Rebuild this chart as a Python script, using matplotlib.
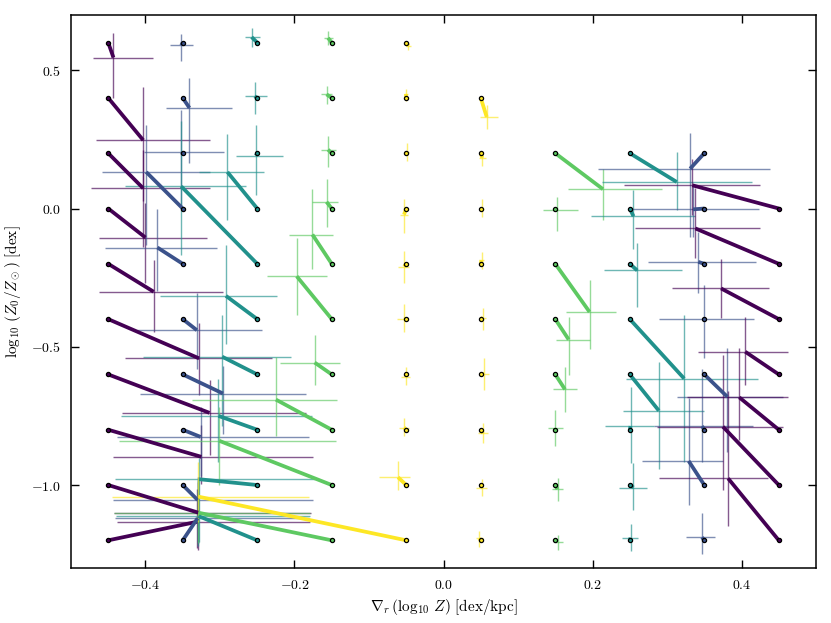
import numpy as np
import matplotlib
matplotlib.use('Agg')
import matplotlib.pyplot as plt
from matplotlib.ticker import FuncFormatter, FixedLocator

# ---- input grid (true values) ----
input_grad = ([-0.45] * 10 + [-0.35] * 10 + [-0.25] * 10 + [-0.15] * 10 + [-0.05] * 10
              + [0.05] * 9 + [0.15] * 8 + [0.25] * 8 + [0.35] * 8 + [0.45] * 7)
input_z0 = ([0.6, 0.4, 0.2, 0.0, -0.2, -0.4, -0.6, -0.8, -1.0, -1.2] * 5
            + [0.4, 0.2, 0.0, -0.2, -0.4, -0.6, -0.8, -1.0, -1.2]
            + [0.2, 0.0, -0.2, -0.4, -0.6, -0.8, -1.0, -1.2] * 3
            + [0.0, -0.2, -0.4, -0.6, -0.8, -1.0, -1.2])

# ---- recovered values ----
rec_grad = [
    -0.443, -0.403, -0.403, -0.400, -0.389, -0.328, -0.314, -0.325, -0.329, -0.331,
    -0.352, -0.341, -0.352, -0.399, -0.384, -0.331, -0.296, -0.326, -0.330, -0.330,
    -0.2575, -0.2535, -0.252, -0.290, -0.352, -0.292, -0.297, -0.302, -0.328, -0.329,
    -0.155, -0.157, -0.155, -0.157, -0.176, -0.197, -0.173, -0.225, -0.301, -0.329,
    -0.047, -0.050, -0.049, -0.053, -0.053, -0.053, -0.051, -0.053, -0.061, -0.329,
    0.058, 0.052, 0.051, 0.051, 0.053, 0.054, 0.053, 0.051, 0.048,
    0.214, 0.152, 0.196, 0.168, 0.163, 0.150, 0.153, 0.153,
    0.313, 0.255, 0.260, 0.323, 0.289, 0.251, 0.255, 0.251,
    0.331, 0.335, 0.342, 0.350, 0.381, 0.347, 0.329, 0.347,
    0.334, 0.338, 0.3725, 0.405, 0.397, 0.375, 0.382,
]
rec_z0 = [
    0.546, 0.247, 0.073, -0.105, -0.301, -0.542, -0.739, -0.898, -1.100, -1.133,
    0.590, 0.364, 0.203, 0.132, -0.141, -0.440, -0.669, -0.826, -1.054, -1.120,
    0.620, 0.406, 0.191, 0.132, 0.080, -0.316, -0.536, -0.750, -0.979, -1.112,
    0.617, 0.413, 0.213, 0.024, -0.094, -0.245, -0.557, -0.691, -0.840, -1.100,
    0.588, 0.413, 0.2045, -0.022, -0.210, -0.401, -0.609, -0.792, -0.972, -1.042,
    0.331, 0.183, 0.000, -0.187, -0.395, -0.600, -0.813, -1.009, -1.193,
    0.070, -0.006, -0.374, -0.474, -0.654, -0.795, -1.015, -1.205,
    0.096, -0.028, -0.224, -0.615, -0.731, -0.787, -1.009, -1.1905,
    0.144, -0.003, -0.193, -0.400, -0.681, -0.787, -0.913, -1.189,
    0.084, -0.072, -0.289, -0.518, -0.683, -0.789, -0.976,
]

# ---- asymmetric uncertainties ----
grad_err_lo = [
    0.028, 0.063, 0.070, 0.063, 0.073, 0.100, 0.117, 0.118, 0.113, 0.107,
    0.015, 0.031, 0.050, 0.059, 0.070, 0.081, 0.112, 0.112, 0.114, 0.111,
    0.009, 0.013, 0.027, 0.038, 0.076, 0.089, 0.106, 0.131, 0.113, 0.110,
    0.006, 0.007, 0.010, 0.020, 0.031, 0.040, 0.046, 0.112, 0.134, 0.113,
    0.004, 0.003, 0.004, 0.006, 0.008, 0.009, 0.006, 0.007, 0.025, 0.116,
    0.009, 0.004, 0.003, 0.003, 0.004, 0.005, 0.007, 0.007, 0.005,
    0.0475, 0.018, 0.031, 0.017, 0.016, 0.010, 0.007, 0.005,
    0.100, 0.057, 0.045, 0.078, 0.048, 0.034, 0.019, 0.011,
    0.123, 0.084, 0.068, 0.061, 0.067, 0.064, 0.063, 0.022,
    0.092, 0.081, 0.066, 0.064, 0.070, 0.089, 0.093,
]
grad_err_hi = [
    0.053, 0.089, 0.089, 0.082, 0.093, 0.098, 0.130, 0.150, 0.151, 0.152,
    0.016, 0.057, 0.058, 0.086, 0.080, 0.088, 0.111, 0.146, 0.155, 0.150,
    0.011, 0.016, 0.036, 0.049, 0.087, 0.069, 0.092, 0.125, 0.155, 0.150,
    0.007, 0.008, 0.011, 0.016, 0.028, 0.040, 0.034, 0.082, 0.157, 0.150,
    0.003, 0.003, 0.003, 0.005, 0.007, 0.003, 0.006, 0.007, 0.016, 0.149,
    0.015, 0.0045, 0.003, 0.003, 0.004, 0.007, 0.007, 0.007, 0.005,
    0.079, 0.028, 0.036, 0.028, 0.016, 0.011, 0.008, 0.007,
    0.101, 0.083, 0.0605, 0.099, 0.060, 0.031, 0.018, 0.010,
    0.107, 0.088, 0.077, 0.067, 0.075, 0.0685, 0.046, 0.017,
    0.091, 0.0865, 0.065, 0.058, 0.065, 0.081, 0.053,
]
z0_err_lo = [
    0.148, 0.219, 0.212, 0.163, 0.145, 0.133, 0.153, 0.100, 0.136, 0.094,
    0.057, 0.201, 0.200, 0.265, 0.156, 0.139, 0.145, 0.140, 0.157, 0.090,
    0.036, 0.065, 0.143, 0.175, 0.249, 0.175, 0.250, 0.166, 0.226, 0.110,
    0.024, 0.034, 0.063, 0.090, 0.123, 0.141, 0.082, 0.133, 0.160, 0.110,
    0.013, 0.025, 0.034, 0.065, 0.059, 0.045, 0.030, 0.031, 0.046, 0.090,
    0.042, 0.029, 0.030, 0.033, 0.045, 0.057, 0.036, 0.030, 0.030,
    0.112, 0.076, 0.135, 0.129, 0.083, 0.064, 0.042, 0.030,
    0.102, 0.120, 0.131, 0.300, 0.211, 0.135, 0.080, 0.047,
    0.247, 0.100, 0.114, 0.142, 0.199, 0.129, 0.159, 0.060,
    0.108, 0.108, 0.106, 0.120, 0.154, 0.229, 0.171,
]
z0_err_hi = [
    0.088, 0.193, 0.138, 0.126, 0.114, 0.127, 0.120, 0.114, 0.111, 0.117,
    0.042, 0.108, 0.153, 0.169, 0.140, 0.133, 0.100, 0.108, 0.084, 0.150,
    0.034, 0.052, 0.110, 0.139, 0.235, 0.183, 0.150, 0.135, 0.075, 0.130,
    0.024, 0.030, 0.049, 0.084, 0.166, 0.139, 0.101, 0.154, 0.123, 0.120,
    0.012, 0.018, 0.033, 0.055, 0.055, 0.054, 0.036, 0.033, 0.059, 0.124,
    0.042, 0.022, 0.034, 0.030, 0.037, 0.058, 0.036, 0.030, 0.027,
    0.072, 0.048, 0.1145, 0.082, 0.082, 0.066, 0.039, 0.024,
    0.108, 0.094, 0.098, 0.229, 0.177, 0.142, 0.089, 0.051,
    0.130, 0.090, 0.108, 0.125, 0.175, 0.208, 0.229, 0.087,
    0.094, 0.145, 0.105, 0.127, 0.177, 0.259, 0.316,
]

x_ticks = [-0.4, -0.2, 0.0, 0.2, 0.4]
y_ticks = [-1.0, -0.5, 0.0, 0.5]

plt.rcParams['mathtext.fontset'] = 'cm'
plt.rcParams['font.family'] = ['DejaVu Serif']

fig = plt.figure(figsize=(8.31, 6.23), dpi=100)
ax = fig.add_axes([0.0854, 0.0883, 0.8966, 0.8877])

cmap = plt.get_cmap('viridis')
for gx, gy, rx, ry, xl, xh, yl, yh in zip(input_grad, input_z0, rec_grad, rec_z0,
                                          grad_err_lo, grad_err_hi, z0_err_lo, z0_err_hi):
    c = cmap((0.45 - abs(gx)) / 0.4)
    ax.errorbar([rx], [ry], xerr=[[xl], [xh]], yerr=[[yl], [yh]], fmt='none',
                ecolor=c, alpha=0.65, elinewidth=1.0, capsize=0, zorder=1)
    ax.plot([gx, rx], [gy, ry], color=c, lw=2.7, solid_capstyle='butt', zorder=2)
    ax.plot([gx], [gy], 'o', mfc=c, mec='k', ms=3.0, mew=0.9, zorder=3)

ax.set_xlim(-0.5, 0.5)
ax.set_ylim(-1.3, 0.7)
ax.xaxis.set_major_locator(FixedLocator(x_ticks))
ax.yaxis.set_major_locator(FixedLocator(y_ticks))
fmt = FuncFormatter(lambda v, p: r'$%.1f$' % v)
ax.xaxis.set_major_formatter(fmt)
ax.yaxis.set_major_formatter(fmt)
ax.tick_params(direction='in', top=True, right=True, length=6, width=1,
               labelsize=10, pad=7)
for s in ax.spines.values():
    s.set_linewidth(1.1)

ax.set_xlabel(r'$\nabla_r\,(\log_{10}\,Z)\ \mathrm{[dex/kpc]}$', fontsize=11, labelpad=4)
ax.set_ylabel(r'$\log_{10}\,(Z_0/Z_\odot)\ \mathrm{[dex]}$', fontsize=11, labelpad=6)

fig.savefig('out.png', dpi=100)
